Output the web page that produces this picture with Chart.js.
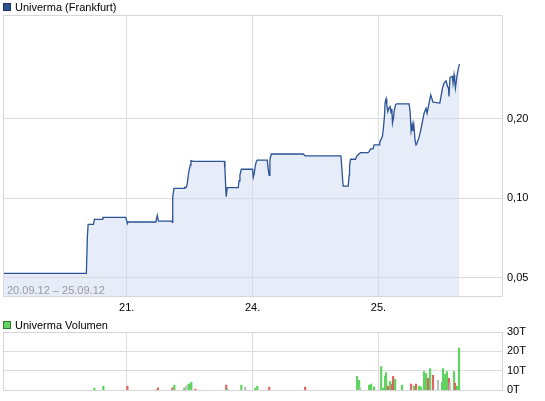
<!DOCTYPE html>
<html><head><meta charset="utf-8">
<script src="https://cdn.jsdelivr.net/npm/chart.js@4.4.1/dist/chart.umd.min.js"></script>
<style>
html,body{margin:0;padding:0;background:#fff;width:545px;height:401px;overflow:hidden;font-family:"Liberation Sans",Arial,sans-serif;}
#c1box{position:absolute;left:0;top:0;width:545px;height:316px;}
#c2box{position:absolute;left:0;top:316px;width:545px;height:85px;}
.sq{position:absolute;width:8px;height:8px;box-sizing:border-box;border:1px solid;}
.lt{position:absolute;font-size:11px;line-height:12px;color:#000;white-space:nowrap;}
#range{position:absolute;left:7px;top:284px;font-size:11px;line-height:12px;color:#9a9a9a;white-space:nowrap;z-index:5;}
</style>
</head><body>
<div id="c1box"><canvas id="c1" width="545" height="316"></canvas></div>
<div id="c2box"><canvas id="c2" width="545" height="85"></canvas></div>
<div class="sq" style="left:3px;top:3px;background:#2e5191;border-color:#1c3567;"></div>
<div class="lt" style="left:15px;top:1px;">Univerma (Frankfurt)</div>
<div class="sq" style="left:3px;top:321px;background:#62d462;border-color:#2f7a2f;"></div>
<div class="lt" style="left:15px;top:319px;">Univerma Volumen</div>
<div id="range">20.09.12 – 25.09.12</div>
<script>
// ---- data ----
const dayTicks = [1, 2, 3];
const dayLabels = ['21.', '24.', '25.'];
const priceTicks = [0.05, 0.10, 0.20];
const priceTickLabels = ['0,05', '0,10', '0,20'];
const volTicks = [0, 10, 20, 30];
const volTickLabels = ['0T', '10T', '20T', '30T'];

const priceX = [0.018,0.679,0.687,0.693,0.735,0.743,0.806,0.810,0.992,1.005,1.010,1.230,1.243,1.251,1.357,1.362,1.365,1.375,1.455,1.460,1.473,1.481,1.489,1.497,1.505,1.510,1.529,1.775,1.780,1.786,1.790,1.798,1.886,1.892,1.899,1.910,2.000,2.005,2.013,2.021,2.029,2.037,2.116,2.124,2.132,2.137,2.148,2.402,2.417,2.701,2.706,2.714,2.719,2.759,2.767,2.770,2.778,2.817,2.825,2.844,2.857,2.917,2.925,2.937,2.957,2.965,3.005,3.010,3.024,3.031,3.040,3.048,3.052,3.060,3.066,3.074,3.082,3.092,3.100,3.106,3.111,3.119,3.124,3.135,3.143,3.243,3.251,3.259,3.267,3.272,3.280,3.290,3.298,3.306,3.320,3.333,3.349,3.362,3.378,3.386,3.394,3.407,3.415,3.423,3.433,3.487,3.494,3.508,3.521,3.537,3.548,3.556,3.560,3.568,3.587,3.592,3.600,3.605,3.611,3.619,3.627,3.635,3.643];
const priceY = [0.0519,0.0519,0.0714,0.0797,0.0797,0.0832,0.0832,0.0847,0.0847,0.0803,0.0813,0.0813,0.0862,0.0820,0.0820,0.0811,0.1009,0.1091,0.1091,0.1101,0.1101,0.1140,0.1226,0.1289,0.1338,0.1390,0.1382,0.1382,0.1289,0.1107,0.1014,0.1097,0.1097,0.1166,0.1226,0.1289,0.1289,0.1202,0.1245,0.1327,0.1378,0.1395,0.1395,0.1281,0.1223,0.1398,0.1473,0.1473,0.1448,0.1448,0.1358,0.1191,0.1113,0.1113,0.1226,0.1327,0.1407,0.1407,0.1439,0.1473,0.1490,0.1490,0.1503,0.1539,0.1539,0.1594,0.1594,0.1632,0.1691,0.1715,0.1871,0.2073,0.2297,0.2385,0.2263,0.2133,0.2198,0.2230,0.2104,0.2185,0.1928,0.2014,0.2133,0.2263,0.2283,0.2283,0.2133,0.1802,0.1900,0.1802,0.1911,0.1666,0.1594,0.1618,0.1691,0.1791,0.1955,0.2104,0.2198,0.2104,0.2198,0.2364,0.2469,0.2400,0.2317,0.2297,0.2400,0.2619,0.2736,0.2792,0.2656,0.2619,0.2433,0.2874,0.2899,0.2736,0.2942,0.2792,0.2619,0.2816,0.2986,0.3119,0.3231];

const volX = [0.743,0.814,1.005,1.243,1.248,1.362,1.378,1.457,1.473,1.492,1.500,1.513,1.544,1.790,1.798,1.910,1.941,2.021,2.037,2.132,2.417,2.830,2.846,2.854,2.925,2.941,2.965,3.021,3.037,3.052,3.060,3.076,3.092,3.108,3.116,3.132,3.187,3.259,3.283,3.298,3.322,3.338,3.362,3.378,3.394,3.410,3.433,3.473,3.505,3.513,3.529,3.544,3.560,3.568,3.600,3.608,3.624,3.640];
const volT = [1.2,2.2,2.2,0.7,1.3,1.3,2.7,1.2,2.5,3.2,3.2,4.2,0.7,2.7,0.8,2.7,1.7,1.2,2.2,1.7,1.7,7.2,5.2,1.2,2.7,3.2,1.8,12.2,1.2,7.2,9.2,2.2,4.7,3.2,7.2,5.7,2.7,3.2,2.2,3.2,2.2,1.7,9.7,8.7,6.2,11.2,7.7,5.2,4.2,11.2,8.2,9.7,6.2,3.7,9.7,3.7,2.2,21.7];
const volDir = ['u','u','d','u','d','d','u','u','n','u','u','u','d','d','u','u','n','u','u','d','d','u','u','n','u','u','u','u','u','u','u','d','u','d','d','u','u','d','u','d','u','u','u','u','d','u','d','n','u','u','u','u','d','n','u','d','u','u'];

// ---- styling ----
const FONT = {family: '"Liberation Sans", Arial, sans-serif', size: 11};
const GRID = '#dcdcdc';
const dirColor = {u: '#5fd35f', d: '#e06262', n: '#bdbdbd'};

const framePlugin = {
  id: 'frame',
  afterDraw(chart) {
    const a = chart.chartArea, ctx = chart.ctx;
    ctx.save();
    ctx.strokeStyle = '#d6d6d6';
    ctx.lineWidth = 1;
    ctx.strokeRect(Math.round(a.left) + 0.5, Math.round(a.top) + 0.5, Math.round(a.right - a.left) - 1, Math.round(a.bottom - a.top));
    ctx.restore();
  }
};

new Chart(document.getElementById('c1'), {
  type: 'line',
  data: {
    datasets: [{
      data: priceX.map((x, i) => ({x: x, y: priceY[i]})),
      borderColor: '#2b5395',
      borderWidth: 1.3,
      backgroundColor: 'rgba(205,218,242,0.5)',
      fill: 'start',
      pointRadius: 0,
      tension: 0
    }]
  },
  options: {
    responsive: false, animation: false, devicePixelRatio: 1,
    layout: {padding: {left: 3, top: 15, right: 0, bottom: 0}},
    plugins: {legend: {display: false}, tooltip: {enabled: false}},
    scales: {
      x: {
        type: 'linear', min: 0.0167, max: 3.989, bounds: 'data',
        afterBuildTicks: s => { s.ticks = dayTicks.map(v => ({value: v})); },
        afterFit: s => { s.height = 20; },
        ticks: {font: FONT, color: '#000', padding: 5, maxRotation: 0,
          callback: (v, i) => dayLabels[i]},
        grid: {color: GRID, drawTicks: false},
        border: {display: false}
      },
      y: {
        type: 'logarithmic', position: 'right', min: 0.0426, max: 0.496, bounds: 'data',
        afterBuildTicks: s => { s.ticks = priceTicks.map(v => ({value: v})); },
        afterFit: s => { s.width = 42; },
        ticks: {font: FONT, color: '#000', padding: 4,
          callback: (v, i) => priceTickLabels[i]},
        grid: {color: GRID, drawTicks: false},
        border: {display: false}
      }
    }
  },
  plugins: [framePlugin]
});

new Chart(document.getElementById('c2'), {
  type: 'bar',
  data: {
    datasets: [{
      data: volX.map((x, i) => ({x: x, y: volT[i]})),
      backgroundColor: volDir.map(d => dirColor[d]),
      barThickness: 1.5,
      borderWidth: 0
    }]
  },
  options: {
    responsive: false, animation: false, devicePixelRatio: 1,
    layout: {padding: {left: 3, top: 16, right: 0, bottom: 9}},
    plugins: {legend: {display: false}, tooltip: {enabled: false}},
    scales: {
      x: {
        type: 'linear', min: 0.0167, max: 3.989, bounds: 'data', offset: false,
        afterBuildTicks: s => { s.ticks = dayTicks.map(v => ({value: v})); },
        afterFit: s => { s.height = 0; },
        ticks: {display: false},
        grid: {color: GRID, drawTicks: false, offset: false},
        border: {display: false}
      },
      y: {
        type: 'linear', position: 'right', min: 0, max: 30, bounds: 'data',
        afterBuildTicks: s => { s.ticks = volTicks.map(v => ({value: v})); },
        afterFit: s => { s.width = 42; },
        ticks: {font: FONT, color: '#000', padding: 4,
          callback: (v, i) => volTickLabels[i]},
        grid: {color: GRID, drawTicks: false},
        border: {display: false}
      }
    }
  },
  plugins: [framePlugin]
});
</script>
</body></html>
